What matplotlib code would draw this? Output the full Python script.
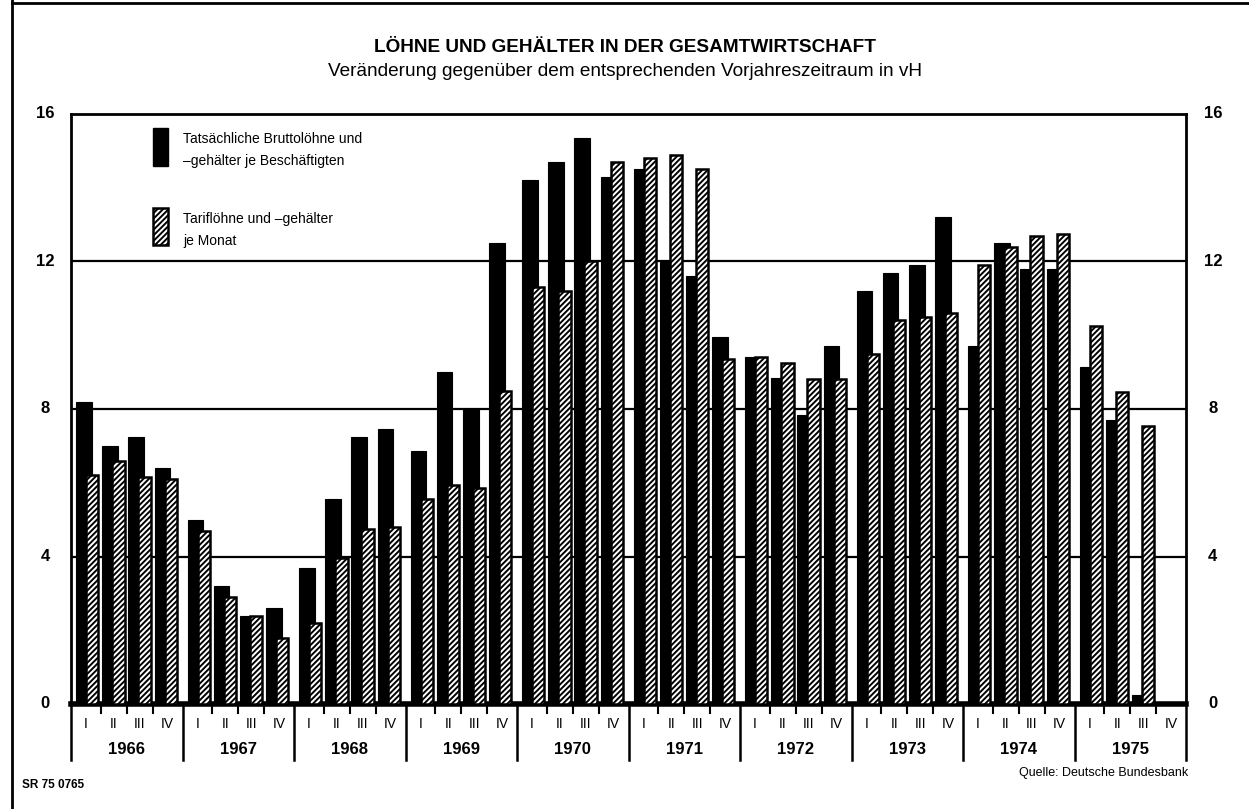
import matplotlib

matplotlib.use("Agg")
import matplotlib.pyplot as plt
import numpy as np
from matplotlib.lines import Line2D
from matplotlib.patches import Rectangle

plt.rcParams["font.family"] = ["DejaVu Sans Condensed", "Liberation Sans Narrow",
                               "Liberation Sans", "DejaVu Sans"]
plt.rcParams["hatch.linewidth"] = 1.4

YEARS = ["1966", "1967", "1968", "1969", "1970", "1971", "1972", "1973", "1974", "1975"]
QUARTERS = ["I", "II", "III", "IV"]

# Tatsächliche Bruttolöhne und -gehälter je Beschäftigten (vH)
effektiv = [8.2, 7.0, 7.25, 6.4,
            5.0, 3.2, 2.4, 2.6,
            3.7, 5.55, 7.25, 7.45,
            6.85, 9.0, 8.0, 12.5,
            14.2, 14.7, 15.35, 14.3,
            14.5, 12.0, 11.6, 9.95,
            9.4, 8.85, 7.85, 9.7,
            11.2, 11.7, 11.9, 13.2,
            9.7, 12.5, 11.8, 11.8,
            9.15, 7.7, 0.25, np.nan]
# Tariflöhne und -gehälter je Monat (vH)
tarif = [6.2, 6.6, 6.15, 6.1,
         4.7, 2.9, 2.4, 1.8,
         2.2, 3.95, 4.75, 4.8,
         5.55, 5.95, 5.85, 8.5,
         11.3, 11.2, 12.0, 14.7,
         14.8, 14.9, 14.5, 9.35,
         9.4, 9.25, 8.8, 8.8,
         9.5, 10.4, 10.5, 10.6,
         11.9, 12.4, 12.7, 12.75,
         10.25, 8.45, 7.55, np.nan]
YTICKS = [0, 4, 8, 12, 16]

W, H = 1249, 809
fig = plt.figure(figsize=(W / 100, H / 100), dpi=100)
ax = fig.add_axes([71 / W, 1 - 704 / H, 1115 / W, 590 / H])

QSTEP = 0.235
HATCH = "//////"
n = len(effektiv)
yi = np.arange(n) // 4
qi = np.arange(n) % 4
left_b = yi + 0.045 + qi * QSTEP
left_t = left_b + 0.09

for y in YTICKS[1:-1]:
    ax.axhline(y, color="black", lw=1.6, zorder=1)
ax.bar(left_b, effektiv, width=0.141, align="edge", color="black",
       edgecolor="black", lw=0.8, zorder=2)
ax.bar(left_t, tarif, width=0.11, align="edge", color="white",
       edgecolor="black", lw=1.8, hatch=HATCH, zorder=3)

ax.set_xlim(0, 10)
ax.set_ylim(0, 16)
ax.set_xticks([]); ax.set_yticks([])
for s in ("left", "right", "top"):
    ax.spines[s].set_linewidth(2.0)
ax.spines["bottom"].set_linewidth(4.0)

# y labels on both sides
tr = ax.get_yaxis_transform()
for v in YTICKS:
    for xa in (-0.0233, 1.024):
        ax.text(xa, v, str(v), transform=tr, ha="center", va="center",
                fontsize=12, fontweight="bold")

# quarter / year axis below zero line
bt = ax.get_xaxis_transform()
px = 1 / 590  # one pixel in axes-y units
for i, yr in enumerate(YEARS):
    ax.add_line(Line2D([i, i], [0, -56 * px], transform=bt, color="black",
                       lw=1.8, clip_on=False))
    seps = [i] + [i + 0.265 + k * QSTEP for k in range(3)] + [i + 1]
    for k in range(1, 4):
        ax.add_line(Line2D([seps[k]] * 2, [0, -9 * px], transform=bt,
                           color="black", lw=1.5, clip_on=False))
    for k, q in enumerate(QUARTERS):
        ax.text((seps[k] + seps[k + 1]) / 2, -20 * px, q, transform=bt,
                ha="center", va="center", fontsize=10)
    ax.text(i + 0.5, -46 * px, yr, transform=bt, ha="center", va="center",
            fontsize=12, fontweight="bold")
ax.add_line(Line2D([10, 10], [0, -56 * px], transform=bt, color="black",
                   lw=1.8, clip_on=False))

# legend drawn by hand
fig.patches.append(Rectangle((153 / W, 1 - 166 / H), 15 / W, 38 / H,
                             transform=fig.transFigure, facecolor="black",
                             edgecolor="black"))
fig.patches.append(Rectangle((153 / W, 1 - 245 / H), 15 / W, 37 / H,
                             transform=fig.transFigure, facecolor="white",
                             edgecolor="black", lw=1.8, hatch=HATCH))
fig.text(183 / W, 1 - 150 / H, "Tatsächliche Bruttolöhne und\n–gehälter je Beschäftigten",
         ha="left", va="center", fontsize=10, linespacing=1.75)
fig.text(183 / W, 1 - 230 / H, "Tariflöhne und –gehälter\nje Monat",
         ha="left", va="center", fontsize=10, linespacing=1.75)

fig.text(625 / W, 1 - 47 / H, "LÖHNE UND GEHÄLTER IN DER GESAMTWIRTSCHAFT",
         ha="center", va="center", fontsize=13.7, fontweight="bold")
fig.text(625 / W, 1 - 72 / H,
         "Veränderung gegenüber dem entsprechenden Vorjahreszeitraum in vH",
         ha="center", va="center", fontsize=13.7)
fig.text(22 / W, 1 - 785 / H, "SR 75 0765", ha="left", va="center",
         fontsize=8.5, fontweight="bold")
fig.text(1188 / W, 1 - 773 / H, "Quelle: Deutsche Bundesbank", ha="right",
         va="center", fontsize=9)

# outer frame
fig.add_artist(Line2D([12 / W, 12 / W], [0, 1], transform=fig.transFigure,
                      color="black", lw=2))
fig.add_artist(Line2D([12 / W, 1], [1 - 3 / H, 1 - 3 / H],
                      transform=fig.transFigure, color="black", lw=2))

fig.savefig("out.png", dpi=100)
